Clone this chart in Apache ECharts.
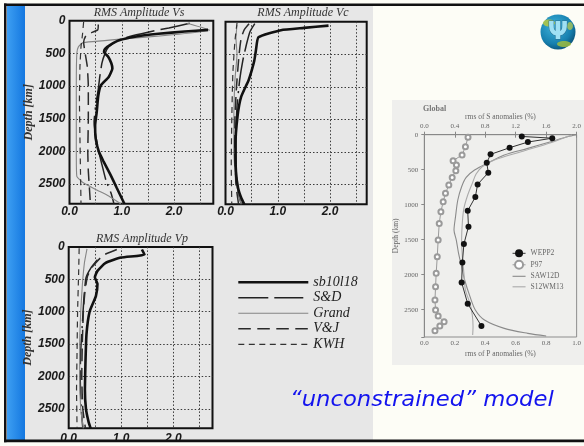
<!DOCTYPE html>
<html>
<head>
<meta charset="utf-8">
<script src="https://cdn.jsdelivr.net/npm/echarts@6/dist/echarts.min.js"></script>
<style>
  html, body { margin: 0; padding: 0; background: #fdfdf6; }
  #chart { width: 584px; height: 446px; }
</style>
</head>
<body>
<div id="chart"></div>
<script>
// ---- RMS amplitude profiles, pairs of [rms amplitude, depth km] ----
const modelNames = ['sb10l18', 'S&D', 'Grand', 'V&J', 'KWH'];

// Vs panel
const vsSb10l18 = [[2.65,140],[2.2,165],[1.7,200],[1.25,245],[0.95,300],[0.78,370],[0.68,430],[0.66,480],[0.74,550],[0.8,650],[0.82,730],[0.75,860],[0.6,990],[0.55,1150],[0.52,1400],[0.49,1600],[0.5,1800],[0.56,2000],[0.65,2150],[0.78,2350],[0.9,2550],[1.05,2800]];
const vsSD      = [[2.3,40],[1.9,110],[1.5,175],[1.15,240],[0.9,310],[0.75,400],[0.68,500],[0.62,650],[0.58,850],[0.55,1050],[0.5,1300],[0.47,1550],[0.5,1750],[0.56,2000],[0.62,2200],[0.7,2450],[0.8,2650],[0.85,2800]];
const vsGrand   = [[2.25,40],[2.68,145],[0.26,335],[0.17,400],[0.14,500],[0.13,1000],[0.13,1500],[0.13,2000],[0.14,2380],[0.25,2470],[0.5,2580],[0.75,2680],[0.98,2800]];
const vsVJ      = [[0.55,60],[0.54,140],[0.32,220],[0.27,330],[0.3,500],[0.34,700],[0.36,1000],[0.36,1500],[0.35,2000],[0.36,2300],[0.38,2550],[0.4,2800]];
const vsKWH     = [[0.27,20],[0.25,200],[0.22,400],[0.2,700],[0.19,1200],[0.2,1800],[0.21,2300],[0.22,2800]];

// Vc panel
const vcSb10l18 = [[1.97,60],[1.5,95],[1.06,130],[0.63,240],[0.58,450],[0.55,600],[0.5,750],[0.44,900],[0.3,1150],[0.23,1450],[0.19,1900],[0.2,2300],[0.24,2550],[0.3,2700],[0.36,2800]];
const vcSD      = [[0.56,30],[0.47,150],[0.4,350],[0.33,600],[0.27,900],[0.22,1300],[0.2,1800],[0.2,2300],[0.24,2600],[0.3,2800]];
const vcGrand   = [[0.22,50],[0.2,250],[0.22,500],[0.18,900],[0.16,1500],[0.16,2000],[0.2,2450],[0.3,2800]];
const vcVJ      = [[0.45,30],[0.36,120],[0.3,250],[0.26,500],[0.21,1000],[0.18,1500],[0.18,2000],[0.2,2500],[0.25,2800]];
const vcKWH     = [[0.22,20],[0.18,300],[0.14,800],[0.12,1500],[0.11,2200],[0.12,2800]];

// Vp panel
const vpSb10l18 = [[1.4,40],[1.45,120],[1.0,165],[0.7,250],[0.55,370],[0.5,470],[0.55,570],[0.52,760],[0.4,1000],[0.34,1350],[0.32,1800],[0.31,2200],[0.33,2500],[0.38,2700],[0.42,2800]];
const vpSD      = [[0.55,200],[0.42,330],[0.33,480],[0.29,800],[0.26,1200],[0.23,1600],[0.22,2000],[0.24,2500],[0.27,2800]];
const vpGrand   = [[0.35,30],[0.3,250],[0.26,600],[0.23,1000],[0.21,1500],[0.21,2000],[0.23,2500],[0.28,2800]];
const vpVJ      = [[0.92,40],[0.66,130],[0.46,300],[0.36,450],[0.31,700],[0.28,1000],[0.26,1500],[0.25,2000],[0.27,2500],[0.32,2800]];
const vpKWH     = [[0.2,20],[0.19,400],[0.17,1000],[0.16,1600],[0.15,2200],[0.16,2800]];

// Global rms of S anomalies (%) for WEPP2, SAW12D, S12WM13; rms of P anomalies (%) for P97
const wepp2  = [[1.28,25],[1.68,50],[1.36,105],[1.12,186],[0.87,281],[0.82,400],[0.84,543],[0.70,710],[0.67,890],[0.57,1086],[0.58,1314],[0.52,1562],[0.50,1824],[0.49,2110],[0.57,2414],[0.75,2733]];
const p97    = [[0.287,38],[0.270,171],[0.248,290],[0.189,371],[0.211,433],[0.207,514],[0.183,610],[0.161,719],[0.139,838],[0.124,957],[0.109,1100],[0.098,1267],[0.091,1505],[0.085,1743],[0.078,1981],[0.074,2171],[0.070,2362],[0.074,2505],[0.091,2590],[0.130,2671],[0.102,2733],[0.070,2800]];
const saw12d = [[2.0,0],[1.88,29],[1.66,100],[1.36,195],[1.05,290],[0.84,400],[0.66,505],[0.55,610],[0.49,743],[0.44,933],[0.41,1171],[0.39,1362],[0.42,1505],[0.45,1695],[0.49,1886],[0.53,2076],[0.60,2314],[0.67,2505],[0.79,2648],[1.05,2767],[1.36,2838],[1.60,2876]];
const s12wm13 = [[1.94,0],[1.66,114],[1.27,243],[0.92,362],[0.76,457],[0.68,562],[0.63,695],[0.57,862],[0.52,1052],[0.50,1243],[0.49,1505],[0.50,1743],[0.52,1981],[0.54,2219],[0.60,2410],[0.63,2576],[0.64,2743],[0.635,2862]];

// Axis tick values
const depthTicks = [0, 500, 1000, 1500, 2000, 2500];
const ampTicks = [0, 1, 2];
const pTicks = [0, 0.2, 0.4, 0.6, 0.8, 1.0];
const sTicks = [0, 0.4, 0.8, 1.2, 1.6, 2.0];

// ---- styles ----
const modelStyle = {
  'sb10l18': { color: '#111', width: 2.6, type: 'solid' },
  'S&D':     { color: '#222', width: 1.5, type: [30, 6, 29, 5, 2, 6] },
  'Grand':   { color: '#858585', width: 1.1, type: 'solid' },
  'V&J':     { color: '#2a2a2a', width: 1.5, type: [12.5, 6.5] },
  'KWH':     { color: '#333', width: 1.2, type: [6, 4.5] }
};

const panels = [
  [vsSb10l18, vsSD, vsGrand, vsVJ, vsKWH],
  [vcSb10l18, vcSD, vcGrand, vcVJ, vcKWH],
  [vpSb10l18, vpSD, vpGrand, vpVJ, vpKWH]
];

const tickFont = { fontFamily: 'Liberation Sans', fontWeight: 'bold', fontStyle: 'italic', fontSize: 12, color: '#1a1a1a' };
const dotted = { show: true, showMinLine: false, showMaxLine: false, lineStyle: { color: '#3a3a3a', width: 1, type: [1.5, 2] } };
const smallFont = { fontFamily: 'Liberation Serif', fontSize: 7, color: '#666' };

function ampAxis(grid, max, margin) {
  return {
    type: 'value', gridIndex: grid, min: 0, max: max, interval: 0.5,
    axisLine: { show: false }, axisTick: { show: false },
    axisLabel: Object.assign({ margin: margin, formatter: v => ampTicks.includes(v) ? v.toFixed(1) : '' }, tickFont),
    splitLine: dotted
  };
}
function depthAxis(grid, withLabels) {
  return {
    type: 'value', gridIndex: grid, inverse: true, min: 0, max: 2800, interval: 500,
    axisLine: { show: false }, axisTick: { show: false },
    axisLabel: Object.assign({ show: withLabels, margin: 4, formatter: v => depthTicks.includes(v) ? String(v) : '' }, tickFont),
    name: withLabels ? 'Depth [km]' : '', nameLocation: 'middle', nameGap: 29, nameRotate: 90,
    nameTextStyle: { fontFamily: 'Liberation Serif', fontStyle: 'italic', fontWeight: 'bold', fontSize: 12, color: '#333' },
    splitLine: dotted
  };
}

const series = [];
panels.forEach((profiles, g) => {
  profiles.forEach((data, i) => {
    const st = modelStyle[modelNames[i]];
    series.push({
      type: 'line', name: modelNames[i], data: data, xAxisIndex: g, yAxisIndex: g,
      symbol: 'none', smooth: 0.15, z: i === 0 ? 5 : 3,
      lineStyle: { color: st.color, width: st.width, type: st.type },
      itemStyle: { color: st.color }
    });
  });
});
series.push(
  { type: 'line', name: 'SAW12D', data: saw12d, xAxisIndex: 4, yAxisIndex: 3, symbol: 'none', smooth: 0.3,
    lineStyle: { color: '#8a8a8a', width: 1.1 }, itemStyle: { color: '#8a8a8a' } },
  { type: 'line', name: 'S12WM13', data: s12wm13, xAxisIndex: 4, yAxisIndex: 3, symbol: 'none', smooth: 0.3,
    lineStyle: { color: '#aaaaaa', width: 1.1 }, itemStyle: { color: '#aaaaaa' } },
  { type: 'line', name: 'P97', data: p97, xAxisIndex: 3, yAxisIndex: 3, symbol: 'emptyCircle', symbolSize: 5,
    lineStyle: { color: '#9a9a9a', width: 1 }, itemStyle: { color: '#9a9a9a', borderWidth: 1 } },
  { type: 'line', name: 'WEPP2', data: wepp2, xAxisIndex: 4, yAxisIndex: 3, symbol: 'circle', symbolSize: 6,
    lineStyle: { color: '#333', width: 1 }, itemStyle: { color: '#111' }, z: 6 }
);

// legend entries drawn as plain line samples (no marker)
const lineOnly = name => ({ name: name, itemStyle: { opacity: 0 } });

const gridFrame = { show: true, borderColor: '#111', borderWidth: 2, backgroundColor: 'transparent' };

const option = {
  animation: false,
  backgroundColor: '#fdfdf6',
  grid: [
    Object.assign({ left: 69.5, top: 20.7, width: 143.8, height: 183.1 }, gridFrame),
    Object.assign({ left: 225.5, top: 21.7, width: 141.2, height: 182.6 }, gridFrame),
    Object.assign({ left: 68.7, top: 246.9, width: 143.8, height: 181.4 }, gridFrame),
    { left: 424.3, top: 134.7, width: 153.4, height: 202.3, show: true, borderColor: '#8d8d8d', borderWidth: 1, backgroundColor: 'transparent' }
  ],
  xAxis: [
    ampAxis(0, 2.75, 2),
    ampAxis(1, 2.7, 1),
    ampAxis(2, 2.75, 4),
    { type: 'value', gridIndex: 3, position: 'bottom', min: 0, max: 1, interval: 0.2,
      axisLine: { lineStyle: { color: '#888' } }, axisTick: { length: 3, lineStyle: { color: '#888' } },
      axisLabel: Object.assign({ margin: 3, formatter: v => pTicks.some(t => Math.abs(t - v) < 1e-9) ? v.toFixed(1) : '' }, smallFont),
      name: 'rms of P anomalies (%)', nameLocation: 'middle', nameGap: 13,
      nameTextStyle: { fontFamily: 'Liberation Serif', fontSize: 7.5, color: '#666' },
      splitLine: { show: false } },
    { type: 'value', gridIndex: 3, position: 'top', min: 0, max: 2, interval: 0.4,
      axisLine: { lineStyle: { color: '#888' } }, axisTick: { length: 3, lineStyle: { color: '#888' } },
      axisLabel: Object.assign({ margin: 5, formatter: v => sTicks.some(t => Math.abs(t - v) < 1e-9) ? v.toFixed(1) : '' }, smallFont),
      name: 'rms of S anomalies (%)', nameLocation: 'middle', nameGap: 14,
      nameTextStyle: { fontFamily: 'Liberation Serif', fontSize: 7.5, color: '#666' },
      splitLine: { show: false } }
  ],
  yAxis: [
    depthAxis(0, true),
    depthAxis(1, false),
    depthAxis(2, true),
    { type: 'value', gridIndex: 3, inverse: true, min: 0, max: 2890, interval: 500,
      axisLine: { lineStyle: { color: '#888' } }, axisTick: { length: 3, lineStyle: { color: '#888' } },
      axisLabel: Object.assign({ margin: 6, formatter: v => depthTicks.includes(v) ? String(v) : '' }, smallFont),
      name: 'Depth (km)', nameLocation: 'middle', nameGap: 20, nameRotate: 90,
      nameTextStyle: { fontFamily: 'Liberation Serif', fontSize: 7.5, color: '#666' },
      splitLine: { show: false } }
  ],
  legend: [
    { data: modelNames.map(lineOnly), orient: 'vertical', left: 232, top: 270.3, itemWidth: 70, itemHeight: 14, itemGap: 1.5,
      selectedMode: false, lineStyle: { width: 'inherit' },
      textStyle: { fontFamily: 'Liberation Serif', fontStyle: 'italic', fontSize: 14, color: '#222' } },
    { data: ['WEPP2', 'P97', lineOnly('SAW12D'), lineOnly('S12WM13')], orient: 'vertical', left: 507, top: 244.3,
      itemWidth: 13, itemHeight: 10, itemGap: 2.5, selectedMode: false, lineStyle: { width: 'inherit' },
      textStyle: { fontFamily: 'Liberation Serif', fontSize: 7.5, color: '#666' } }
  ],
  graphic: [
    // slide panels and frame
    { type: 'rect', z: -20, shape: { x: 25, y: 6, width: 348, height: 434 }, style: { fill: '#e7e7e7' } },
    { type: 'rect', z: -20, shape: { x: 392, y: 100, width: 192, height: 265 }, style: { fill: '#efefed' } },
    { type: 'rect', z: -19, shape: { x: 7, y: 5, width: 18, height: 436 },
      style: { fill: new echarts.graphic.LinearGradient(0, 0, 1, 0, [{ offset: 0, color: '#3d9ff2' }, { offset: 1, color: '#1477e0' }]) } },
    { type: 'rect', z: 20, shape: { x: 4, y: 3.5, width: 580, height: 2.5 }, style: { fill: '#111' } },
    { type: 'rect', z: 20, shape: { x: 4, y: 439.5, width: 580, height: 2.8 }, style: { fill: '#111' } },
    { type: 'rect', z: 20, shape: { x: 4, y: 3.5, width: 2.5, height: 438.8 }, style: { fill: '#111' } },
    // panel titles
    { type: 'text', x: 139, y: 13.3, z: 10, style: { text: 'RMS Amplitude Vs', align: 'center', verticalAlign: 'middle', fontFamily: 'Liberation Serif', fontStyle: 'italic', fontSize: 12, fill: '#333' } },
    { type: 'text', x: 303, y: 13.3, z: 10, style: { text: 'RMS Amplitude Vc', align: 'center', verticalAlign: 'middle', fontFamily: 'Liberation Serif', fontStyle: 'italic', fontSize: 12, fill: '#333' } },
    { type: 'text', x: 142, y: 238.5, z: 10, style: { text: 'RMS Amplitude Vp', align: 'center', verticalAlign: 'middle', fontFamily: 'Liberation Serif', fontStyle: 'italic', fontSize: 12, fill: '#333' } },
    { type: 'text', x: 423, y: 109, z: 10, style: { text: 'Global', align: 'left', verticalAlign: 'middle', fontFamily: 'Liberation Serif', fontWeight: 'bold', fontSize: 8, fill: '#777' } },
    // caption
    { type: 'text', x: 290, y: 400.5, z: 10, scaleX: 1.08, style: { text: '\u201cunconstrained\u201d model', align: 'left', verticalAlign: 'middle', fontFamily: 'DejaVu Sans', fontStyle: 'italic', fontSize: 21, fill: '#1414ee' } },
    // logo globe
    { type: 'group', x: 558, y: 32, z: 10, children: [
      { type: 'circle', shape: { cx: 0, cy: 0, r: 17.5 },
        style: { fill: new echarts.graphic.RadialGradient(0.4, 0.35, 0.7, [{ offset: 0, color: '#3fb4dc' }, { offset: 0.7, color: '#167fae' }, { offset: 1, color: '#0b4f74' }]) } },
      { type: 'ellipse', shape: { cx: -9, cy: -9, rx: 6, ry: 3.5 }, style: { fill: '#b9c940', opacity: 0.85 } },
      { type: 'ellipse', shape: { cx: 6, cy: 12, rx: 7, ry: 3 }, style: { fill: '#a8c23a', opacity: 0.8 } },
      { type: 'ellipse', shape: { cx: 12, cy: -6, rx: 3, ry: 4 }, style: { fill: '#c2cf48', opacity: 0.7 } },
      { type: 'text', x: 0, y: 1, style: { text: '\u03a8', align: 'center', verticalAlign: 'middle', fontFamily: 'DejaVu Sans', fontWeight: 'bold', fontSize: 24, fill: '#9fe0f4', stroke: '#2b6f90', lineWidth: 1 } }
    ] }
  ],
  series: series
};

const chart = echarts.init(document.getElementById('chart'), null, { renderer: 'canvas', width: 584, height: 446 });
chart.setOption(option);
</script>
</body>
</html>
